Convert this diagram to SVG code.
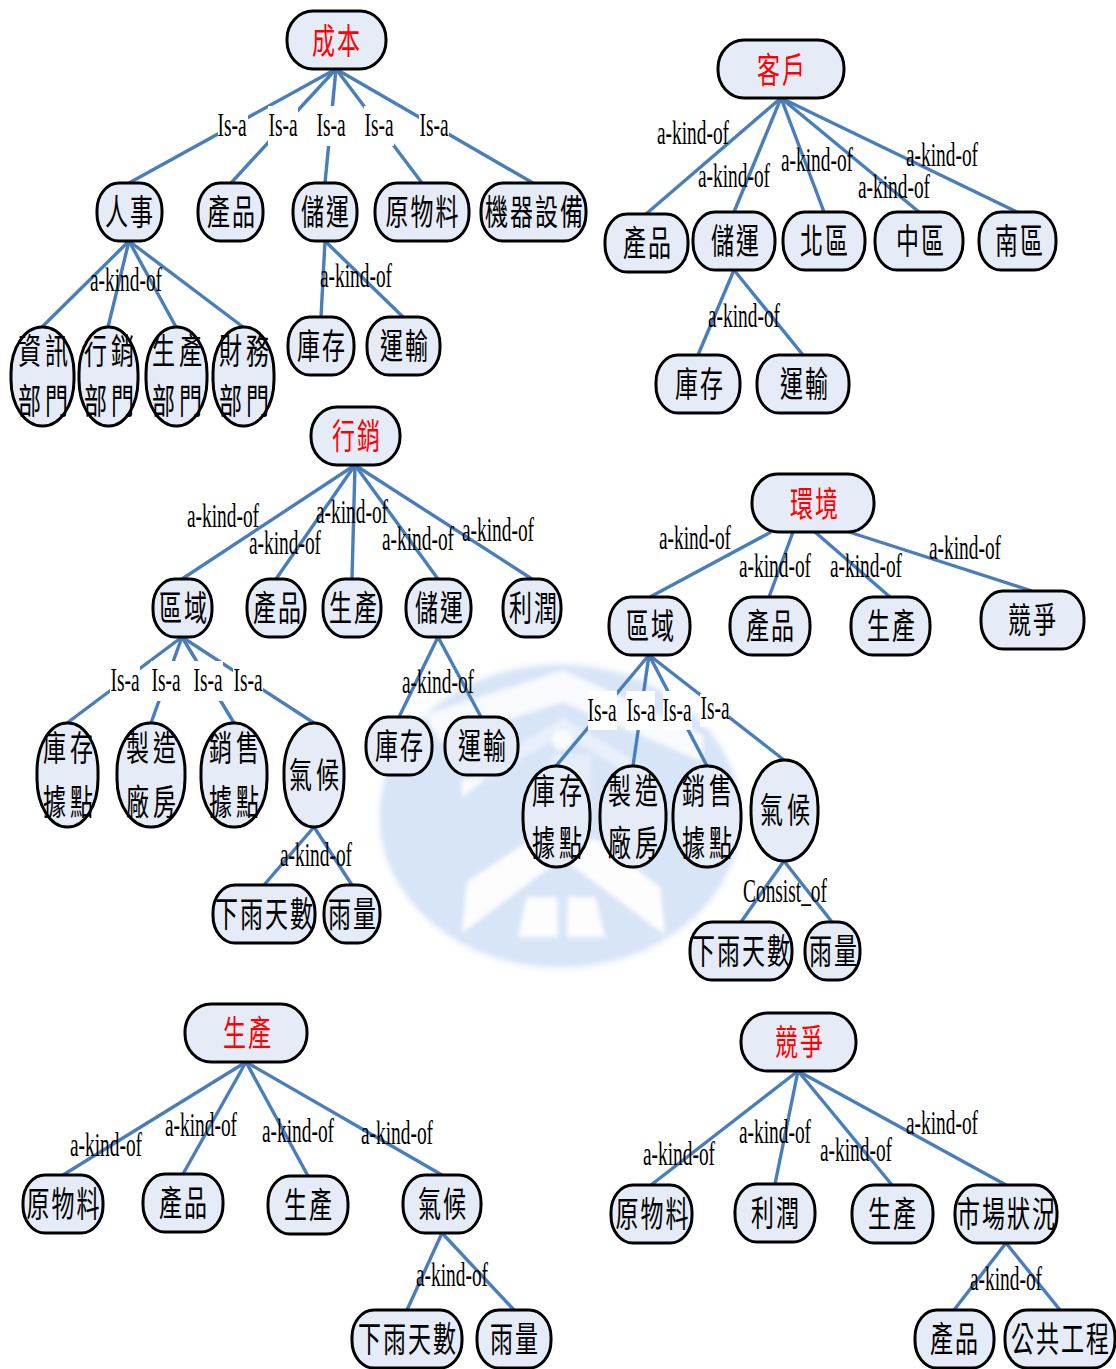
<svg xmlns="http://www.w3.org/2000/svg" width="1116" height="1369" viewBox="0 0 1116 1369">
<style>
.n rect{fill:#e6ecf7;stroke:#000;stroke-width:3}
.n text{font-family:"Noto Sans CJK TC","Noto Sans CJK SC",sans-serif;font-size:23px;font-weight:400;letter-spacing:2px;text-anchor:middle;fill:#000}
.n text.r{fill:#f00}
.n text.w{letter-spacing:4px}
#connectors line{stroke:#4a7ebb;stroke-width:3.4;fill:none}
#labels text{font-family:"Liberation Serif",serif;font-size:34px;text-anchor:middle;fill:#000}
#labels rect{fill:#fff}
</style>
<defs><filter id="soft" x="-5%" y="-5%" width="110%" height="110%"><feGaussianBlur stdDeviation="2"/></filter></defs>
<g id="watermark" filter="url(#soft)">
<ellipse cx="560" cy="816" rx="184" ry="156" fill="#f6f9fd"/>
<ellipse cx="560" cy="816" rx="180" ry="151" fill="#d8e5f7"/>
<polygon points="425,715 563,670 703,735 703,762 563,702 440,742" fill="#f8fafd"/>
<polygon points="462,780 563,718 650,770 650,785 563,735 484,780 462,797" fill="#e9f0fb"/>
<polygon points="462,780 462,797 484,780" fill="#fbfcfe"/>
<circle cx="562" cy="740" r="10" fill="#fbfcfe"/>
<polygon points="552,755 590,755 590,830 552,770" fill="#e6eefa"/>
<polygon points="467,882 530,840 597,840 660,887 665,935 562,858 462,933" fill="#fdfdfe"/>
<polygon points="527,897 557,897 558,937 518,937" fill="#fdfdfe"/>
<polygon points="568,897 595,897 605,937 567,937" fill="#fdfdfe"/>
</g>
<g id="connectors">
<line x1="336" y1="69" x2="129" y2="183"/><line x1="336" y1="69" x2="231" y2="183"/><line x1="336" y1="69" x2="325" y2="183"/><line x1="336" y1="69" x2="422" y2="183"/><line x1="336" y1="69" x2="533" y2="183"/>
<line x1="129" y1="241" x2="42" y2="327"/><line x1="129" y1="241" x2="108" y2="327"/><line x1="129" y1="241" x2="176" y2="327"/><line x1="129" y1="241" x2="243" y2="327"/>
<line x1="325" y1="241" x2="321" y2="317"/><line x1="325" y1="241" x2="403" y2="317"/>
<line x1="781" y1="98" x2="646" y2="214"/><line x1="781" y1="98" x2="734" y2="212"/><line x1="781" y1="98" x2="824" y2="212"/><line x1="781" y1="98" x2="919" y2="212"/><line x1="781" y1="98" x2="1017" y2="212"/>
<line x1="734" y1="270" x2="698" y2="355"/><line x1="734" y1="270" x2="803" y2="355"/>
<line x1="355" y1="465" x2="182" y2="579"/><line x1="355" y1="465" x2="276" y2="579"/><line x1="355" y1="465" x2="352" y2="579"/><line x1="355" y1="465" x2="438" y2="579"/><line x1="355" y1="465" x2="532" y2="579"/>
<line x1="182" y1="637" x2="67" y2="723"/><line x1="182" y1="637" x2="151" y2="723"/><line x1="182" y1="637" x2="234" y2="723"/><line x1="182" y1="637" x2="314" y2="723"/>
<line x1="438" y1="637" x2="399" y2="717"/><line x1="438" y1="637" x2="481" y2="717"/>
<line x1="314" y1="827" x2="264" y2="885"/><line x1="314" y1="827" x2="352" y2="885"/>
<line x1="771" y1="532" x2="650" y2="597"/><line x1="793" y1="532" x2="769" y2="597"/><line x1="815" y1="532" x2="890" y2="597"/><line x1="849" y1="532" x2="1032" y2="591"/>
<line x1="649" y1="655" x2="556" y2="766"/><line x1="649" y1="655" x2="633" y2="766"/><line x1="649" y1="655" x2="707" y2="766"/><line x1="649" y1="655" x2="784" y2="760"/>
<line x1="784" y1="861" x2="741" y2="922"/><line x1="784" y1="861" x2="832" y2="922"/>
<line x1="246" y1="1062" x2="63" y2="1175"/><line x1="246" y1="1062" x2="183" y2="1174"/><line x1="246" y1="1062" x2="308" y2="1176"/><line x1="246" y1="1062" x2="442" y2="1175"/>
<line x1="442" y1="1233" x2="407" y2="1310"/><line x1="442" y1="1233" x2="514" y2="1310"/>
<line x1="798" y1="1071" x2="651" y2="1185"/><line x1="798" y1="1071" x2="775" y2="1184"/><line x1="798" y1="1071" x2="892" y2="1185"/><line x1="798" y1="1071" x2="1006" y2="1185"/>
<line x1="1006" y1="1243" x2="954" y2="1310"/><line x1="1006" y1="1243" x2="1060" y2="1310"/>
</g>
<g id="labels" transform="translate(0,1)">
<rect x="218" y="105" width="30" height="40"/><rect x="268" y="105" width="30" height="40"/><rect x="316" y="105" width="30" height="40"/><rect x="364" y="105" width="30" height="40"/><rect x="419" y="105" width="30" height="40"/>
<rect x="110" y="660" width="30" height="40"/><rect x="151" y="660" width="30" height="40"/><rect x="193" y="660" width="30" height="40"/><rect x="233" y="660" width="30" height="40"/>
<rect x="588" y="690" width="29" height="39"/><rect x="626" y="690" width="29" height="39"/><rect x="663" y="690" width="29" height="39"/><rect x="700" y="693" width="29" height="33"/>
<text transform="translate(232,135) scale(.57,1)">Is-a</text><text transform="translate(283,135) scale(.57,1)">Is-a</text><text transform="translate(331,135) scale(.57,1)">Is-a</text><text transform="translate(379,135) scale(.57,1)">Is-a</text><text transform="translate(434,135) scale(.57,1)">Is-a</text>
<text transform="translate(126,290) scale(.57,1)">a-kind-of</text><text transform="translate(356,286) scale(.57,1)">a-kind-of</text>
<text transform="translate(693,143) scale(.57,1)">a-kind-of</text><text transform="translate(734,186) scale(.57,1)">a-kind-of</text><text transform="translate(817,170) scale(.57,1)">a-kind-of</text><text transform="translate(894,197) scale(.57,1)">a-kind-of</text><text transform="translate(942,165) scale(.57,1)">a-kind-of</text><text transform="translate(744,326) scale(.57,1)">a-kind-of</text>
<text transform="translate(223,526) scale(.57,1)">a-kind-of</text><text transform="translate(285,553) scale(.57,1)">a-kind-of</text><text transform="translate(352,522) scale(.57,1)">a-kind-of</text><text transform="translate(418,549) scale(.57,1)">a-kind-of</text><text transform="translate(498,540) scale(.57,1)">a-kind-of</text><text transform="translate(438,692) scale(.57,1)">a-kind-of</text>
<text transform="translate(125,690) scale(.57,1)">Is-a</text><text transform="translate(166,690) scale(.57,1)">Is-a</text><text transform="translate(208,690) scale(.57,1)">Is-a</text><text transform="translate(248,690) scale(.57,1)">Is-a</text><text transform="translate(316,865) scale(.57,1)">a-kind-of</text>
<text transform="translate(695,548) scale(.57,1)">a-kind-of</text><text transform="translate(775,576) scale(.57,1)">a-kind-of</text><text transform="translate(866,576) scale(.57,1)">a-kind-of</text><text transform="translate(965,558) scale(.57,1)">a-kind-of</text>
<text transform="translate(602,720) scale(.57,1)">Is-a</text><text transform="translate(641,720) scale(.57,1)">Is-a</text><text transform="translate(677,720) scale(.57,1)">Is-a</text><text transform="translate(715,718) scale(.57,1)">Is-a</text><text transform="translate(785,901) scale(.57,1)">Consist_of</text>
<text transform="translate(106,1155) scale(.57,1)">a-kind-of</text><text transform="translate(201,1135) scale(.57,1)">a-kind-of</text><text transform="translate(298,1141) scale(.57,1)">a-kind-of</text><text transform="translate(397,1143) scale(.57,1)">a-kind-of</text><text transform="translate(452,1285) scale(.57,1)">a-kind-of</text>
<text transform="translate(679,1164) scale(.57,1)">a-kind-of</text><text transform="translate(775,1142) scale(.57,1)">a-kind-of</text><text transform="translate(856,1160) scale(.57,1)">a-kind-of</text><text transform="translate(942,1133) scale(.57,1)">a-kind-of</text><text transform="translate(1006,1289) scale(.57,1)">a-kind-of</text>
</g>
<g id="cost" class="n"><rect x="287" y="11" width="99" height="58" rx="26" ry="28"/><text class="r" transform="translate(337,54) scale(1,1.55)">成本</text></g>
<g id="c-hr" class="n"><rect x="97" y="183" width="65" height="58" rx="22" ry="27"/><text transform="translate(130,225) scale(1,1.55)">人事</text></g>
<g id="c-prod" class="n"><rect x="198" y="183" width="65" height="58" rx="22" ry="27"/><text transform="translate(232,225) scale(1,1.55)">產品</text></g>
<g id="c-log" class="n"><rect x="293" y="183" width="64" height="58" rx="22" ry="27"/><text transform="translate(326,225) scale(1,1.55)">儲運</text></g>
<g id="c-raw" class="n"><rect x="375" y="183" width="94" height="58" rx="22" ry="27"/><text transform="translate(423,225) scale(1,1.55)">原物料</text></g>
<g id="c-mach" class="n"><rect x="481" y="183" width="105" height="58" rx="22" ry="27"/><text transform="translate(535,225) scale(1,1.55)">機器設備</text></g>
<g id="c-d1" class="n"><rect x="11" y="327" width="63" height="99" rx="31" ry="46"/><text class="w" transform="translate(45,364) scale(1,1.55)">資訊</text><text class="w" transform="translate(45,414) scale(1,1.55)">部門</text></g>
<g id="c-d2" class="n"><rect x="79" y="327" width="59" height="99" rx="29" ry="46"/><text class="w" transform="translate(111,364) scale(1,1.55)">行銷</text><text class="w" transform="translate(111,414) scale(1,1.55)">部門</text></g>
<g id="c-d3" class="n"><rect x="146" y="327" width="61" height="99" rx="30" ry="46"/><text class="w" transform="translate(179,364) scale(1,1.55)">生產</text><text class="w" transform="translate(179,414) scale(1,1.55)">部門</text></g>
<g id="c-d4" class="n"><rect x="213" y="327" width="61" height="99" rx="30" ry="46"/><text class="w" transform="translate(246,364) scale(1,1.55)">財務</text><text class="w" transform="translate(246,414) scale(1,1.55)">部門</text></g>
<g id="c-stock" class="n"><rect x="288" y="317" width="66" height="58" rx="22" ry="27"/><text transform="translate(322,359) scale(1,1.55)">庫存</text></g>
<g id="c-trans" class="n"><rect x="367" y="317" width="73" height="58" rx="22" ry="27"/><text transform="translate(405,359) scale(1,1.55)">運輸</text></g>
<g id="cust" class="n"><rect x="718" y="40" width="126" height="58" rx="26" ry="28"/><text class="r" transform="translate(782,83) scale(1,1.55)">客戶</text></g>
<g id="k-prod" class="n"><rect x="605" y="214" width="83" height="58" rx="22" ry="27"/><text transform="translate(648,256) scale(1,1.55)">產品</text></g>
<g id="k-log" class="n"><rect x="693" y="212" width="82" height="58" rx="22" ry="27"/><text transform="translate(736,254) scale(1,1.55)">儲運</text></g>
<g id="k-n" class="n"><rect x="783" y="212" width="82" height="58" rx="22" ry="27"/><text transform="translate(825,254) scale(1,1.55)">北區</text></g>
<g id="k-c" class="n"><rect x="875" y="212" width="88" height="58" rx="22" ry="27"/><text transform="translate(921,254) scale(1,1.55)">中區</text></g>
<g id="k-s" class="n"><rect x="979" y="212" width="77" height="58" rx="22" ry="27"/><text transform="translate(1020,254) scale(1,1.55)">南區</text></g>
<g id="k-stock" class="n"><rect x="656" y="355" width="84" height="58" rx="22" ry="27"/><text transform="translate(700,397) scale(1,1.55)">庫存</text></g>
<g id="k-trans" class="n"><rect x="757" y="355" width="92" height="58" rx="22" ry="27"/><text transform="translate(805,397) scale(1,1.55)">運輸</text></g>
<g id="mkt" class="n"><rect x="311" y="407" width="89" height="58" rx="26" ry="28"/><text class="r" transform="translate(357,449) scale(1,1.55)">行銷</text></g>
<g id="m-area" class="n"><rect x="153" y="579" width="59" height="58" rx="22" ry="27"/><text transform="translate(184,621) scale(1,1.55)">區域</text></g>
<g id="m-prod" class="n"><rect x="247" y="579" width="58" height="58" rx="22" ry="27"/><text transform="translate(278,621) scale(1,1.55)">產品</text></g>
<g id="m-make" class="n"><rect x="323" y="579" width="58" height="58" rx="22" ry="27"/><text transform="translate(354,621) scale(1,1.55)">生產</text></g>
<g id="m-log" class="n"><rect x="406" y="579" width="65" height="58" rx="22" ry="27"/><text transform="translate(440,621) scale(1,1.55)">儲運</text></g>
<g id="m-profit" class="n"><rect x="503" y="579" width="58" height="58" rx="22" ry="27"/><text transform="translate(534,621) scale(1,1.55)">利潤</text></g>
<g id="m-a1" class="n"><rect x="37" y="723" width="61" height="104" rx="30" ry="48"/><text class="w" transform="translate(70,761) scale(1,1.55)">庫存</text><text class="w" transform="translate(70,815) scale(1,1.55)">據點</text></g>
<g id="m-a2" class="n"><rect x="117" y="723" width="68" height="104" rx="33" ry="48"/><text class="w" transform="translate(153,761) scale(1,1.55)">製造</text><text class="w" transform="translate(153,815) scale(1,1.55)">廠房</text></g>
<g id="m-a3" class="n"><rect x="201" y="723" width="66" height="104" rx="32" ry="48"/><text class="w" transform="translate(236,761) scale(1,1.55)">銷售</text><text class="w" transform="translate(236,815) scale(1,1.55)">據點</text></g>
<g id="m-a4" class="n"><rect x="284" y="723" width="60" height="104" rx="30" ry="48"/><text class="w" transform="translate(316,788) scale(1,1.55)">氣候</text></g>
<g id="m-rain1" class="n"><rect x="213" y="885" width="102" height="58" rx="22" ry="27"/><text transform="translate(265,927) scale(1,1.55)">下雨天數</text></g>
<g id="m-rain2" class="n"><rect x="324" y="885" width="56" height="58" rx="22" ry="27"/><text transform="translate(353,927) scale(1,1.55)">雨量</text></g>
<g id="m-stock" class="n"><rect x="366" y="717" width="66" height="58" rx="22" ry="27"/><text transform="translate(400,759) scale(1,1.55)">庫存</text></g>
<g id="m-trans" class="n"><rect x="445" y="717" width="73" height="58" rx="22" ry="27"/><text transform="translate(483,759) scale(1,1.55)">運輸</text></g>
<g id="env" class="n"><rect x="752" y="474" width="122" height="58" rx="26" ry="28"/><text class="r" transform="translate(815,517) scale(1,1.55)">環境</text></g>
<g id="e-area" class="n"><rect x="609" y="597" width="81" height="58" rx="22" ry="27"/><text transform="translate(651,639) scale(1,1.55)">區域</text></g>
<g id="e-prod" class="n"><rect x="730" y="597" width="80" height="58" rx="22" ry="27"/><text transform="translate(771,639) scale(1,1.55)">產品</text></g>
<g id="e-make" class="n"><rect x="851" y="597" width="79" height="58" rx="22" ry="27"/><text transform="translate(892,639) scale(1,1.55)">生產</text></g>
<g id="e-comp" class="n"><rect x="981" y="591" width="103" height="58" rx="22" ry="27"/><text transform="translate(1033,633) scale(1,1.55)">競爭</text></g>
<g id="e-a1" class="n"><rect x="523" y="766" width="67" height="101" rx="33" ry="47"/><text class="w" transform="translate(559,804) scale(1,1.55)">庫存</text><text class="w" transform="translate(559,856) scale(1,1.55)">據點</text></g>
<g id="e-a2" class="n"><rect x="600" y="766" width="66" height="101" rx="32" ry="47"/><text class="w" transform="translate(635,804) scale(1,1.55)">製造</text><text class="w" transform="translate(635,856) scale(1,1.55)">廠房</text></g>
<g id="e-a3" class="n"><rect x="673" y="766" width="68" height="101" rx="33" ry="47"/><text class="w" transform="translate(709,804) scale(1,1.55)">銷售</text><text class="w" transform="translate(709,856) scale(1,1.55)">據點</text></g>
<g id="e-a4" class="n"><rect x="751" y="760" width="67" height="101" rx="33" ry="47"/><text class="w" transform="translate(787,823) scale(1,1.55)">氣候</text></g>
<g id="e-rain1" class="n"><rect x="690" y="922" width="102" height="58" rx="22" ry="27"/><text transform="translate(742,964) scale(1,1.55)">下雨天數</text></g>
<g id="e-rain2" class="n"><rect x="805" y="922" width="55" height="58" rx="22" ry="27"/><text transform="translate(834,964) scale(1,1.55)">雨量</text></g>
<g id="prod" class="n"><rect x="185" y="1004" width="122" height="58" rx="26" ry="28"/><text class="r" transform="translate(248,1046) scale(1,1.55)">生產</text></g>
<g id="p-raw" class="n"><rect x="23" y="1175" width="80" height="58" rx="22" ry="27"/><text transform="translate(64,1217) scale(1,1.55)">原物料</text></g>
<g id="p-prod" class="n"><rect x="143" y="1174" width="80" height="58" rx="22" ry="27"/><text transform="translate(184,1216) scale(1,1.55)">產品</text></g>
<g id="p-make" class="n"><rect x="268" y="1176" width="80" height="58" rx="22" ry="27"/><text transform="translate(309,1218) scale(1,1.55)">生產</text></g>
<g id="p-clim" class="n"><rect x="403" y="1175" width="78" height="58" rx="22" ry="27"/><text transform="translate(443,1217) scale(1,1.55)">氣候</text></g>
<g id="p-rain1" class="n"><rect x="352" y="1310" width="110" height="58" rx="22" ry="27"/><text transform="translate(408,1352) scale(1,1.55)">下雨天數</text></g>
<g id="p-rain2" class="n"><rect x="477" y="1310" width="74" height="58" rx="22" ry="27"/><text transform="translate(515,1352) scale(1,1.55)">雨量</text></g>
<g id="comp" class="n"><rect x="741" y="1013" width="115" height="58" rx="26" ry="28"/><text class="r" transform="translate(800,1055) scale(1,1.55)">競爭</text></g>
<g id="q-raw" class="n"><rect x="611" y="1185" width="81" height="58" rx="22" ry="27"/><text transform="translate(653,1227) scale(1,1.55)">原物料</text></g>
<g id="q-profit" class="n"><rect x="735" y="1184" width="80" height="58" rx="22" ry="27"/><text transform="translate(776,1226) scale(1,1.55)">利潤</text></g>
<g id="q-make" class="n"><rect x="852" y="1185" width="81" height="58" rx="22" ry="27"/><text transform="translate(893,1227) scale(1,1.55)">生產</text></g>
<g id="q-mkt" class="n"><rect x="955" y="1185" width="102" height="58" rx="22" ry="27"/><text transform="translate(1007,1227) scale(1,1.55)">市場狀況</text></g>
<g id="q-prod" class="n"><rect x="915" y="1310" width="79" height="58" rx="22" ry="27"/><text transform="translate(955,1352) scale(1,1.55)">產品</text></g>
<g id="q-pub" class="n"><rect x="1005" y="1310" width="110" height="58" rx="22" ry="27"/><text transform="translate(1061,1352) scale(1,1.55)">公共工程</text></g>
</svg>
